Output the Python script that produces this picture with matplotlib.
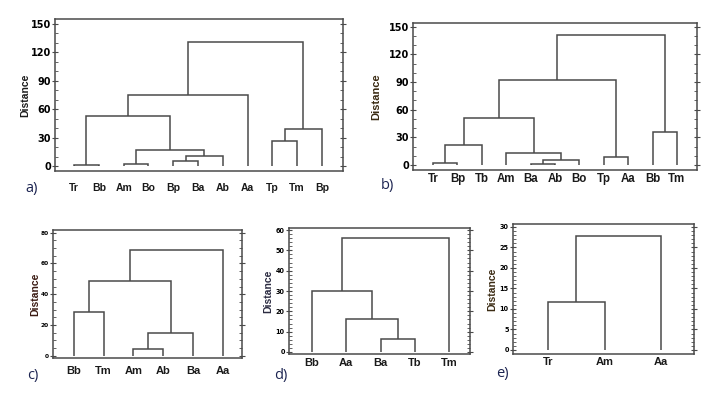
import matplotlib
matplotlib.use("Agg")
import matplotlib.pyplot as plt
from matplotlib.ticker import MultipleLocator
import matplotlib.transforms as mtransforms

# ---------------- data ----------------
leaves_a = ["Tr", "Bb", "Am", "Bo", "Bp", "Ba", "Ab", "Aa", "Tp", "Tm", "Bp"]
merges_a = [(0, 1, 1.0), (2, 3, 2.5), (4, 5, 5.5), (13, 6, 10.5), (12, 14, 16.5),
            (11, 15, 52.5), (16, 7, 75.5), (8, 9, 26.0), (18, 10, 39.5), (17, 19, 130.5)]

leaves_b = ["Tr", "Bp", "Tb", "Am", "Ba", "Ab", "Bo", "Tp", "Aa", "Bb", "Tm"]
merges_b = [(0, 1, 2.5), (11, 2, 21.5), (4, 5, 1.0), (13, 6, 5.5), (3, 14, 13.5),
            (12, 15, 51.5), (7, 8, 8.5), (16, 17, 92.5), (9, 10, 35.5), (18, 19, 140.5)]

leaves_c = ["Bb", "Tm", "Am", "Ab", "Ba", "Aa"]
merges_c = [(2, 3, 4.5), (6, 4, 15.0), (0, 1, 28.6), (8, 7, 48.6), (9, 5, 69.0)]

leaves_d = ["Bb", "Aa", "Ba", "Tb", "Tm"]
merges_d = [(2, 3, 6.6), (1, 5, 16.4), (0, 6, 30.0), (7, 4, 55.9)]

leaves_e = ["Tr", "Am", "Aa"]
merges_e = [(0, 1, 11.7), (3, 2, 27.8)]

panel_letters = ["a)", "b)", "c)", "d)", "e)"]
ylabel = "Distance"

W, H = 720, 398
fig = plt.figure(figsize=(W / 100, H / 100), dpi=100)

LINE = "#4a4a4a"
TXT = "#1a1a1a"
NAVY = "#1c2451"


def px_axes(l, t, r, b):
    return fig.add_axes([l / W, 1 - b / H, (r - l) / W, (b - t) / H])


def draw_panel(box, leaves, merges, xlim, ylim, major, minor, tick_fs, leaf_fs,
               leaf_off, ylab_x, lab_fs=7.5, ylab_color=TXT):
    l, t, r, b = box
    ax = px_axes(l, t, r, b)
    n = len(leaves)
    pos = {i: (float(i), 0.0) for i in range(n)}
    k = n
    for a_, b_, h in merges:
        xa, ya = pos[a_]
        xb, yb = pos[b_]
        ax.plot([xa, xa, xb, xb], [ya, h, h, yb], color=LINE, lw=1.1,
                solid_joinstyle="miter", solid_capstyle="butt")
        pos[k] = ((xa + xb) / 2, h)
        k += 1
    ax.set_xlim(*xlim)
    ax.set_ylim(*ylim)
    ax.set_xticks([])
    ax.yaxis.set_major_locator(MultipleLocator(major))
    ax.yaxis.set_minor_locator(MultipleLocator(minor))
    ax.tick_params(axis="y", which="major", direction="inout", length=4,
                   width=0.8, color=LINE, labelsize=tick_fs, pad=1,
                   right=True, labelright=False)
    ax.tick_params(axis="y", which="minor", direction="in", length=2,
                   width=0.6, color=LINE, right=True)
    for lab in ax.get_yticklabels():
        lab.set_fontweight("bold")
        lab.set_family("DejaVu Sans")
    for s in ax.spines.values():
        s.set_color(LINE)
        s.set_linewidth(1.1)
    trans = mtransforms.blended_transform_factory(ax.transData, ax.transAxes)
    yfrac = -(leaf_off) / (b - t)
    for i, name in enumerate(leaves):
        ax.text(i, yfrac, name, transform=trans, ha="center", va="center",
                fontsize=leaf_fs, fontweight="bold", color=TXT,
                family="Liberation Sans")
    fig.text(ylab_x / W, 1 - ((t + b) / 2) / H, ylabel, rotation=90,
             ha="center", va="center", fontsize=lab_fs, fontweight="bold",
             color=ylab_color, family="Liberation Sans")
    return ax


# a)
draw_panel((55, 19, 343, 171), leaves_a, merges_a, (-0.77, 10.85), (-5.3, 155.3),
           30, 10, 7, 7.5, 17, 25)
# b)
draw_panel((413, 23, 697, 170), leaves_b, merges_b, (-0.82, 10.82), (-5.4, 154),
           30, 10, 7, 8.3, 9, 376, lab_fs=8, ylab_color="#3a2a12")
# c)
draw_panel((53, 230, 242, 358), leaves_c, merges_c, (-0.70, 5.64), (-1.5, 81.8),
           20, 5, 4.2, 8, 13, 35, ylab_color="#3a1a12")
# d)
draw_panel((289, 228, 470, 354), leaves_d, merges_d, (-0.67, 4.61), (-1.0, 61.0),
           10, 2, 4.7, 8, 9, 268, ylab_color="#2a2a40")
# e)
draw_panel((513, 224, 694, 354), leaves_e, merges_e, (-0.62, 2.58), (-0.98, 30.73),
           5, 1, 4.7, 8, 8, 492, ylab_color="#3a2a12")

letter_pos = [(32, 188), (387, 186), (33, 375), (281, 375), (502, 373)]
for txt, (x, y) in zip(panel_letters, letter_pos):
    fig.text(x / W, 1 - y / H, txt, ha="center", va="center", fontsize=10.5,
             color=NAVY, family="Open Sans")

fig.savefig("out.png", dpi=100)
